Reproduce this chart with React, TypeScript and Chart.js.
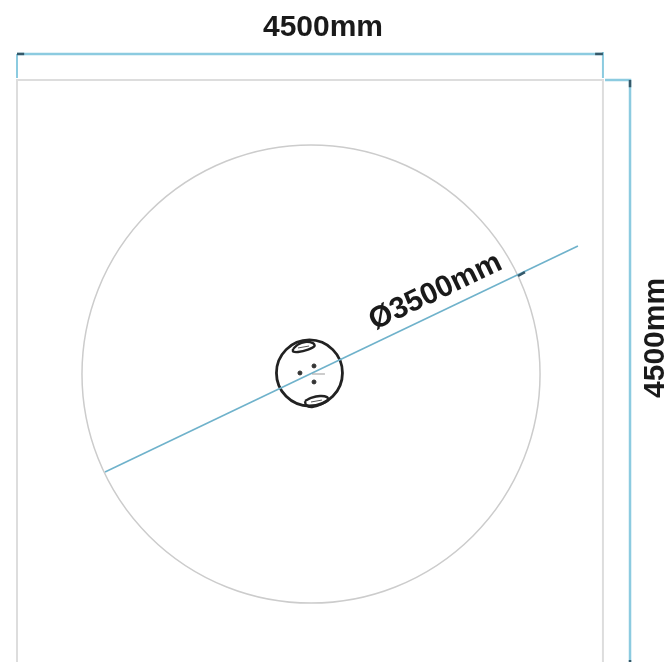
import React, { useEffect, useRef } from "react";
import { Chart, registerables } from "chart.js";

Chart.register(...registerables);

// All geometry is in millimetres on the drawing's own axes.
type P = { x: number; y: number };
const squareOutline: P[] = [{ x: 0, y: 0 }, { x: 4500, y: 0 }, { x: 4500, y: 4500 }, { x: 0, y: 4500 }, { x: 0, y: 0 }];
const topDimension: P[] = [{ x: 0, y: 4515 }, { x: 0, y: 4700 }, { x: 4500, y: 4715 }, { x: 4500, y: 4515 }];
const topDimLine: P[] = [{ x: 0, y: 4700 }, { x: 4500, y: 4700 }];
const rightDimension: P[] = [{ x: 4516, y: 4500 }, { x: 4708, y: 4500 }, { x: 4708, y: 0 }];
const diameterLine: P[] = [{ x: 676, y: 1489 }, { x: 4308, y: 3225 }];
const arrowTicks: P[][] = [
  [{ x: 0, y: 4700 }, { x: 55, y: 4700 }],
  [{ x: 4440, y: 4700 }, { x: 4500, y: 4700 }],
  [{ x: 4708, y: 4500 }, { x: 4708, y: 4445 }],
  [{ x: 4708, y: 46 }, { x: 4708, y: 0 }],
  [{ x: 3848, y: 2995 }, { x: 3901, y: 3025 }],
];
const outerCircle = { x: 2258, y: 2242, diameter: 3518 };
const hubCircle = { x: 2246, y: 2250, diameter: 507 };
const topSlot: P[] = [
  { x: 2120, y: 2434 }, { x: 2158, y: 2469 }, { x: 2212, y: 2488 }, { x: 2273, y: 2480 },
  { x: 2285, y: 2457 }, { x: 2235, y: 2430 }, { x: 2158, y: 2411 }, { x: 2120, y: 2415 }, { x: 2120, y: 2434 },
];
const topSlotInner: P[] = [{ x: 2158, y: 2442 }, { x: 2243, y: 2457 }];
const bottomSlot: P[] = [
  { x: 2212, y: 2035 }, { x: 2258, y: 2058 }, { x: 2327, y: 2073 }, { x: 2381, y: 2065 },
  { x: 2388, y: 2042 }, { x: 2342, y: 2012 }, { x: 2266, y: 1989 }, { x: 2220, y: 2004 }, { x: 2212, y: 2035 },
];
const bottomSlotInner: P[] = [{ x: 2258, y: 2027 }, { x: 2342, y: 2042 }];
const hubDots: P[] = [{ x: 2173, y: 2250 }, { x: 2281, y: 2304 }, { x: 2281, y: 2181 }];
const centreMark: P[] = [{ x: 2266, y: 2242 }, { x: 2365, y: 2242 }];
const labelTexts = ["4500mm", "4500mm", "Ø3500mm"];
const labelPoints: P[] = [{ x: 2350, y: 4900 }, { x: 4907, y: 2519 }, { x: 3215, y: 2872 }];
const labelAngles = [0, -90, -25.5];

const GREY = "#dddddd";
const BLUE = "#8ccbe0";
const BLUE2 = "#6fb2cb";
const DARK = "#222222";
const TICK = "#35596a";

const line = (data: P[], color: string, width: number, tension = 0) => ({
  type: "scatter" as const,
  data,
  showLine: true,
  borderColor: color,
  borderWidth: width,
  tension,
  pointRadius: 0,
  pointHoverRadius: 0,
  fill: false,
});

const circle = (c: { x: number; y: number; diameter: number }, color: string, width: number) => ({
  type: "scatter" as const,
  data: [{ x: c.x, y: c.y }],
  showLine: false,
  pointStyle: "circle",
  backgroundColor: "rgba(0,0,0,0)",
  borderColor: color,
  pointBorderColor: color,
  pointBorderWidth: width,
  pointRadius: (ctx: any) => {
    const s = ctx.chart.scales.x;
    return Math.abs(s.getPixelForValue(c.diameter / 2) - s.getPixelForValue(0));
  },
});

const labelPlugin = {
  id: "drawingLabels",
  afterDatasetsDraw(chart: any) {
    const { ctx, scales } = chart;
    ctx.save();
    ctx.fillStyle = "#1a1a1a";
    ctx.font = 'bold 30px "Liberation Sans", Arial, sans-serif';
    ctx.textAlign = "center";
    ctx.textBaseline = "middle";
    labelTexts.forEach((text, i) => {
      ctx.save();
      ctx.translate(scales.x.getPixelForValue(labelPoints[i].x), scales.y.getPixelForValue(labelPoints[i].y));
      ctx.rotate((labelAngles[i] * Math.PI) / 180);
      ctx.fillText(text, 0, 0);
      ctx.restore();
    });
    ctx.restore();
  },
};

export default function App() {
  const ref = useRef<HTMLCanvasElement>(null);
  useEffect(() => {
    document.body.style.margin = "0";
    // Chart.js paints the first dataset on top, so the list runs top-most first.
    const layers = [
      line(squareOutline, GREY, 2),
      circle(outerCircle, "#cccccc", 1.5),
      line(topDimLine, BLUE, 2.5),
      line(topDimension.slice(0, 2), BLUE, 2),
      line(topDimension.slice(2), BLUE, 2),
      line(rightDimension, BLUE, 2.5),
      circle(hubCircle, DARK, 2.8),
      line(diameterLine, BLUE2, 1.6),
      ...arrowTicks.map((t) => line(t, TICK, 2.5)),
      line(topSlot, DARK, 2.4, 0.3),
      line(topSlotInner, "#555555", 1),
      line(bottomSlot, DARK, 2.4, 0.3),
      line(bottomSlotInner, "#555555", 1),
      line(centreMark, "#999999", 1),
      {
        type: "scatter",
        data: hubDots,
        backgroundColor: "#333333",
        borderColor: "#333333",
        pointRadius: 2,
        pointHoverRadius: 2,
      },
    ];
    const chart = new Chart(ref.current as HTMLCanvasElement, {
      type: "scatter",
      data: { datasets: layers.reverse() as any },
      options: {
        animation: false,
        responsive: false,
        devicePixelRatio: 1,
        layout: { padding: 0, autoPadding: false },
        events: [],
        plugins: { legend: { display: false }, tooltip: { enabled: false } },
        scales: {
          x: { type: "linear", display: false, min: -130.56, max: 4999.68 },
          y: { type: "linear", display: false, min: 30.24, max: 5114.4 },
        },
      },
      plugins: [labelPlugin],
    } as any);
    return () => chart.destroy();
  }, []);
  return (
    <div style={{ position: "absolute", left: 0, top: 0, width: 668, height: 662, overflow: "hidden", background: "#fff" }}>
      <canvas ref={ref} width={668} height={662} style={{ display: "block", filter: "blur(0.45px)" }} />
    </div>
  );
}
